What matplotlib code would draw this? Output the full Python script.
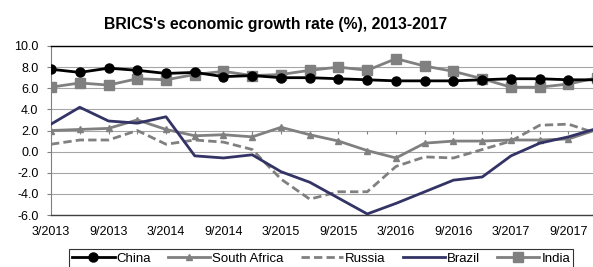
import numpy as np
import matplotlib
matplotlib.use('Agg')
import matplotlib.pyplot as plt

plt.rcParams['font.family'] = ['Liberation Sans', 'DejaVu Sans']

# quarterly growth, 3/2013 .. 12/2017
quarters = ['3/2013', '6/2013', '9/2013', '12/2013', '3/2014', '6/2014', '9/2014', '12/2014',
            '3/2015', '6/2015', '9/2015', '12/2015', '3/2016', '6/2016', '9/2016', '12/2016',
            '3/2017', '6/2017', '9/2017', '12/2017']
china = [7.8, 7.5, 7.9, 7.7, 7.4, 7.5, 7.1, 7.2, 7.0, 7.0, 6.9, 6.8, 6.7, 6.7, 6.7, 6.8, 6.9, 6.9, 6.8, 6.8]
south_africa = [2.0, 2.1, 2.2, 3.0, 2.1, 1.5, 1.6, 1.4, 2.3, 1.6, 1.0, 0.1, -0.6, 0.8, 1.0, 1.0, 1.1, 1.1, 1.2, 2.1]
russia = [0.7, 1.1, 1.1, 2.0, 0.7, 1.1, 0.9, 0.2, -2.6, -4.5, -3.8, -3.8, -1.4, -0.5, -0.6, 0.2, 1.0, 2.5, 2.6, 1.7]
brazil = [2.6, 4.2, 2.9, 2.7, 3.3, -0.4, -0.6, -0.3, -1.9, -2.9, -4.4, -5.9, -4.9, -3.8, -2.7, -2.4, -0.4, 0.8, 1.4, 2.2]
india = [6.1, 6.5, 6.3, 6.9, 6.8, 7.3, 7.6, 7.2, 7.3, 7.7, 8.0, 7.7, 8.8, 8.1, 7.6, 6.9, 6.1, 6.1, 6.4, 7.0]

x = np.arange(len(quarters))
W, H = 593, 267
fig = plt.figure(figsize=(W / 100, H / 100), dpi=100)
ax = fig.add_axes([51 / W, (H - 215) / H, (W - 51) / W, (215 - 46) / H])

grey = '#808080'
ax.plot(x, china, color='black', lw=2.0, marker='o', ms=6.5, label='China', zorder=6)
ax.plot(x, south_africa, color=grey, lw=2.0, marker='^', ms=5, label='South Africa', zorder=4)
ax.plot(x, russia, color=grey, lw=2.0, ls=(0, (3, 1.5)), label='Russia', zorder=3)
ax.plot(x, brazil, color='#333366', lw=2.0, label='Brazil', zorder=5)
ax.plot(x, india, color=grey, lw=2.0, marker='s', ms=6.5, label='India', zorder=5)

ax.set_xlim(0, (W - 51) / 28.75)
ax.set_ylim(-6, 10)
ax.set_yticks(np.arange(-6, 11, 2))
ax.set_yticklabels(['%.1f' % v for v in np.arange(-6, 11, 2)], fontsize=9)
ax.set_xticks(x[::2])
ax.set_xticklabels(quarters[::2], fontsize=9)
ax.tick_params(axis='x', length=0, pad=8)
ax.tick_params(axis='y', length=3, width=0.8, color=grey, pad=6)
ax.grid(axis='y', color='#a6a6a6', lw=0.8)
ax.set_axisbelow(True)
# category ticks on the 2.0 line
ax.vlines(x, 1.7, 2.0, color=grey, lw=0.8, zorder=1)

ax.spines['right'].set_visible(False)
ax.spines['top'].set_color('black')
ax.spines['top'].set_linewidth(1.0)
ax.spines['bottom'].set_color('#404040')
ax.spines['bottom'].set_linewidth(1.0)
ax.spines['left'].set_color(grey)
ax.spines['left'].set_linewidth(0.8)

fig.text(276 / W, 1 - 24 / H, "BRICS's economic growth rate (%), 2013-2017",
         ha='center', va='center', fontsize=11.3, fontweight='bold')

leg = fig.legend(loc='upper left', bbox_to_anchor=(69 / W, 1 - 249 / H), ncol=5,
                 fontsize=9.5, frameon=True, fancybox=False, borderpad=0.25,
                 handlelength=3.2, handletextpad=0.15, columnspacing=1.3,
                 borderaxespad=0)
leg.get_frame().set_edgecolor('black')
leg.get_frame().set_linewidth(0.8)

fig.savefig('out.png', dpi=100)
